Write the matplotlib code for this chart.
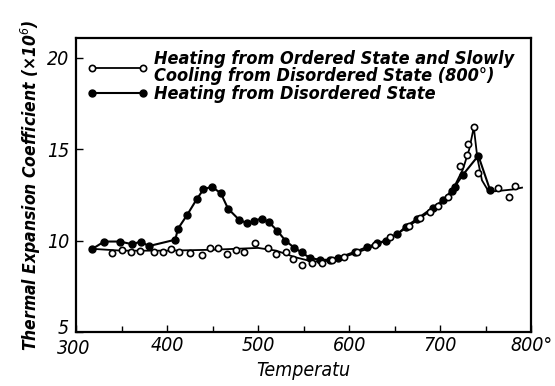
import numpy as np
import matplotlib
matplotlib.use("Agg")
import matplotlib.pyplot as plt
import matplotlib.transforms as mtransforms

# heating from ordered state / slow cooling (open circles)
open_t = [340, 350, 360, 370, 386, 396, 404, 413, 425, 438, 447, 456, 466, 476, 485,
          497, 511, 520, 531, 538, 548, 559, 570, 581, 594, 609, 629, 645, 666, 678,
          689, 698, 709, 722, 729, 731, 737, 742, 764, 776, 782]
open_a = [9.3, 9.5, 9.35, 9.45, 9.4, 9.4, 9.55, 9.4, 9.3, 9.2, 9.6, 9.6, 9.25, 9.5, 9.35,
          9.85, 9.6, 9.25, 9.4, 9.0, 8.65, 8.8, 8.75, 8.95, 9.1, 9.4, 9.75, 10.2, 10.8, 11.25,
          11.55, 11.9, 12.4, 14.1, 14.7, 15.3, 16.2, 13.7, 12.9, 12.4, 13.0]

# smooth curve drawn through the open circles
open_curve_t = [318, 350, 400, 450, 500, 520, 540, 560, 580, 600, 620, 640, 660, 680,
                700, 715, 725, 732, 737, 741, 746, 752, 760, 780, 790]
open_curve_a = [9.55, 9.45, 9.45, 9.5, 9.6, 9.45, 9.1, 8.85, 8.9, 9.2, 9.55, 10.0, 10.6, 11.3,
                12.0, 12.9, 13.9, 15.0, 16.2, 14.5, 13.3, 12.8, 12.7, 12.8, 12.9]

# heating from disordered state (filled circles)
fill_t = [318, 331, 348, 362, 371, 380, 409, 412, 422, 433, 440, 449, 459, 467, 479, 488,
          496, 504, 512, 521, 530, 540, 548, 557, 568, 579, 588, 607, 620, 631, 640, 653,
          662, 675, 692, 703, 713, 716, 725, 742, 755]
fill_a = [9.55, 9.95, 9.95, 9.8, 9.95, 9.7, 10.05, 10.65, 11.4, 12.3, 12.8, 12.95, 12.6, 11.75,
          11.15, 10.95, 11.1, 11.2, 11.0, 10.55, 10.0, 9.6, 9.35, 9.05, 8.95, 8.95, 9.05, 9.4,
          9.65, 9.85, 10.0, 10.35, 10.75, 11.2, 11.8, 12.2, 12.7, 12.95, 13.6, 14.65, 12.75]

plt.rcParams['font.family'] = ['DejaVu Sans']
plt.rcParams['font.style'] = 'italic'
plt.rcParams['font.stretch'] = 'condensed'

fig = plt.figure(figsize=(5.55, 3.86), dpi=100)
ax = fig.add_axes([0.137, 0.140, 0.820, 0.762])

ax.plot(open_curve_t, open_curve_a, color='black', lw=1.3, zorder=2)
ax.plot(open_t, open_a, 'o', ms=4.5, mfc='white', mec='black', mew=1.2, zorder=4)
ax.plot(fill_t, fill_a, '-o', color='black', lw=1.5, ms=5, zorder=3)

# legend handles
l1, = ax.plot([], [], '-o', color='black', lw=1.3, ms=4.5, mfc='white', mew=1.2)
l2, = ax.plot([], [], '-o', color='black', lw=1.5, ms=5)
leg = ax.legend([l1, l2],
                ['Heating from Ordered State and Slowly\nCooling from Disordered State (800°)',
                 'Heating from Disordered State'],
                loc='upper left', bbox_to_anchor=(0.0, 0.995), frameon=False, numpoints=2,
                handlelength=3.4, handletextpad=0.3, labelspacing=0.0, borderaxespad=0.2,
                prop={'size': 13, 'style': 'italic', 'weight': 'bold', 'stretch': 'condensed'})
for t in leg.get_texts():
    t.set_linespacing(0.95)

ax.set_xlim(300, 800)
ax.set_ylim(5, 21.1)
ax.set_xticks([300, 400, 500, 600, 700, 800])
ax.set_xticklabels(['300', '400', '500', '600', '700', '800°'])
ax.set_xticks([350, 450, 550, 650, 750], minor=True)
ax.set_yticks([5, 10, 15, 20])
ax.tick_params(direction='in', length=5, width=1, labelsize=14, pad=3)
ax.tick_params(axis='y', pad=5)
ax.tick_params(which='minor', direction='in', length=4, width=1)
for s in ax.spines.values():
    s.set_linewidth(1.6)

# lift the bottom "5" a little so it sits above "300"
ylabs = ax.get_yticklabels()
ylabs[0].set_transform(ylabs[0].get_transform() + mtransforms.ScaledTranslation(0, 4 / 72, fig.dpi_scale_trans))
xlabs = ax.get_xticklabels()
xlabs[0].set_transform(xlabs[0].get_transform() + mtransforms.ScaledTranslation(-2 / 72, -2 / 72, fig.dpi_scale_trans))

ax.set_ylabel('Thermal Expansion Coefficient (×10$^6$)', fontsize=12.5, fontweight='bold', labelpad=3)
ax.set_xlabel('Temperatu', fontsize=14, labelpad=2)

fig.savefig('out.png', dpi=100)
